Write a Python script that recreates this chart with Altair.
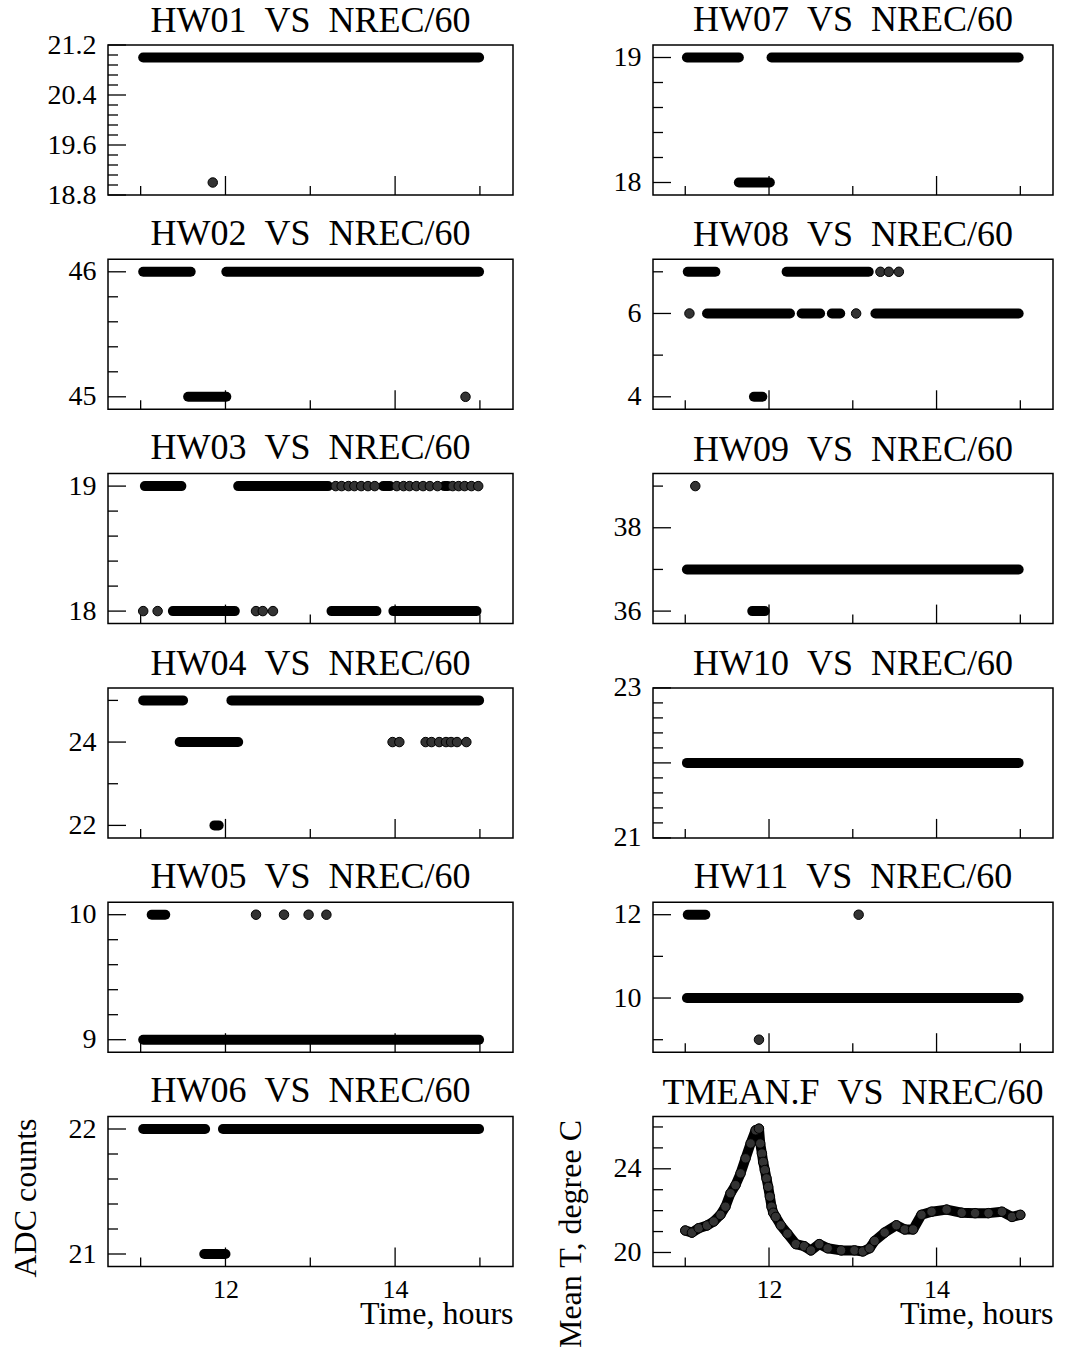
import altair as alt
import pandas as pd

FONT = "Liberation Serif"
SP = "\u00a0\u00a0"

X_DOMAIN = [10.615, 15.39]
X_MAJOR = [12, 14]
X_MINOR = [11, 13, 15]

# ---- data: runs (t_start, t_end, value) and single points (t, value) ----
HW01_RUNS = [(11.03, 14.99, 21)]
HW01_POINTS = [(11.85, 19)]

HW02_RUNS = [(11.03, 11.59, 46), (12.01, 14.99, 46), (11.56, 12.01, 45)]
HW02_POINTS = [(14.83, 45)]

HW03_RUNS = [(11.05, 11.48, 19), (12.15, 13.21, 19), (13.86, 13.94, 19), (14.58, 14.62, 19),
             (11.38, 12.11, 18), (13.25, 13.78, 18), (13.98, 14.96, 18)]
HW03_POINTS = [(13.3, 19), (13.37, 19), (13.45, 19), (13.52, 19), (13.6, 19), (13.68, 19),
               (13.76, 19), (14.02, 19), (14.1, 19), (14.17, 19), (14.25, 19), (14.33, 19),
               (14.41, 19), (14.5, 19), (14.68, 19), (14.75, 19), (14.82, 19), (14.9, 19),
               (14.98, 19),
               (11.03, 18), (11.2, 18), (12.36, 18), (12.44, 18), (12.56, 18)]

HW04_RUNS = [(11.03, 11.5, 25), (12.07, 14.99, 25), (11.46, 12.15, 24), (11.87, 11.92, 22)]
HW04_POINTS = [(13.97, 24), (14.05, 24), (14.36, 24), (14.43, 24), (14.52, 24), (14.6, 24),
               (14.66, 24), (14.73, 24), (14.84, 24)]

HW05_RUNS = [(11.13, 11.29, 10), (11.03, 14.99, 9)]
HW05_POINTS = [(12.36, 10), (12.69, 10), (12.98, 10), (13.19, 10)]

HW06_RUNS = [(11.03, 11.76, 22), (11.97, 14.99, 22), (11.75, 12.0, 21)]
HW06_POINTS = []

HW07_RUNS = [(11.02, 11.64, 19), (12.03, 14.98, 19), (11.64, 12.01, 18)]
HW07_POINTS = []

HW08_RUNS = [(11.03, 11.36, 7), (12.21, 13.19, 7), (11.26, 12.25, 6), (12.39, 12.61, 6),
             (12.75, 12.85, 6), (13.27, 14.98, 6), (11.82, 11.92, 4)]
HW08_POINTS = [(13.33, 7), (13.43, 7), (13.55, 7), (11.05, 6), (13.04, 6)]

HW09_RUNS = [(11.02, 14.98, 37), (11.8, 11.95, 36)]
HW09_POINTS = [(11.12, 39)]

HW10_RUNS = [(11.02, 14.98, 22)]
HW10_POINTS = []

HW11_RUNS = [(11.03, 11.24, 12), (11.02, 14.98, 10)]
HW11_POINTS = [(13.07, 12), (11.88, 9)]

TMEAN_T = [11.0, 11.08, 11.16, 11.26, 11.34, 11.42, 11.48, 11.54, 11.6, 11.66, 11.72, 11.78,
           11.84, 11.88, 11.895, 11.915, 11.93, 11.95, 11.97, 11.99, 12.01, 12.03, 12.05,
           12.08, 12.14, 12.22, 12.32, 12.42, 12.5, 12.6, 12.7, 12.86, 13.02, 13.12, 13.2,
           13.26, 13.38, 13.52, 13.62, 13.72, 13.82, 13.94, 14.12, 14.3, 14.46, 14.62, 14.78,
           14.9, 15.0]
TMEAN_V = [21.05, 20.95, 21.16, 21.29, 21.48, 21.8, 22.19, 22.83, 23.22, 23.78, 24.5, 25.21,
           25.84, 25.92, 25.21, 24.73, 24.33, 23.94, 23.54, 23.14, 22.67, 22.19, 21.9,
           21.7, 21.3, 20.9, 20.4, 20.3, 20.1, 20.4, 20.2, 20.1, 20.1, 20.05, 20.2,
           20.55, 20.95, 21.3, 21.1, 21.1, 21.8, 21.95, 22.05, 21.9, 21.88, 21.88, 21.95,
           21.7, 21.8]

# ---- axes per panel: domain, labelled ticks, minor ticks ----
HW01_Y = dict(dom=[18.8, 21.2], labels=[18.8, 19.6, 20.4, 21.2],
              minor=[18.96, 19.12, 19.28, 19.44, 19.76, 19.92, 20.08, 20.24,
                     20.56, 20.72, 20.88, 21.04], fmt=".1f")
HW02_Y = dict(dom=[44.9, 46.1], labels=[45, 46], minor=[45.2, 45.4, 45.6, 45.8], fmt="d")
HW03_Y = dict(dom=[17.9, 19.1], labels=[18, 19], minor=[18.2, 18.4, 18.6, 18.8], fmt="d")
HW04_Y = dict(dom=[21.7, 25.3], labels=[22, 24], minor=[23, 25], fmt="d")
HW05_Y = dict(dom=[8.9, 10.1], labels=[9, 10], minor=[9.2, 9.4, 9.6, 9.8], fmt="d")
HW06_Y = dict(dom=[20.9, 22.1], labels=[21, 22], minor=[21.2, 21.4, 21.6, 21.8], fmt="d")
HW07_Y = dict(dom=[17.9, 19.1], labels=[18, 19], minor=[18.2, 18.4, 18.6, 18.8], fmt="d")
HW08_Y = dict(dom=[3.7, 7.3], labels=[4, 6], minor=[5, 7], fmt="d")
HW09_Y = dict(dom=[35.7, 39.3], labels=[36, 38], minor=[37, 39], fmt="d")
HW10_Y = dict(dom=[21, 23], labels=[21, 22, 23],
              minor=[21.2, 21.4, 21.6, 21.8, 22.2, 22.4, 22.6, 22.8], fmt="d")
HW11_Y = dict(dom=[8.7, 12.3], labels=[10, 12], minor=[9, 11], fmt="d")
TMEAN_Y = dict(dom=[19.33, 26.5], labels=[20, 24], minor=[21, 22, 23, 25, 26], fmt="d")

H = 150
MAJ_LEN = 18
MIN_LEN = 10
DOT_FILL = "#333333"


def panel(name, yspec, width, runs, points, bottom=False, ytitle=None, ytitle_y=None,
          curve=None, title_offset=-23):
    xs = alt.Scale(domain=X_DOMAIN, nice=False, zero=False)
    ys = alt.Scale(domain=yspec["dom"], nice=False, zero=False)

    if bottom:
        xaxis = alt.Axis(values=X_MAJOR, format="d", ticks=False, domain=False, grid=False,
                         labelPadding=10, labelFontSize=26, labelFlush=False,
                         title="Time, hours", titleAnchor="end", titleAlign="right",
                         titleX=width, titleY=57, titleBaseline="alphabetic")
    else:
        xaxis = None
    yaxis_kw = dict(values=yspec["labels"], format=yspec["fmt"], ticks=False, domain=False,
                    grid=False, labelPadding=12, labelFlush=False, labelOverlap=False)
    if ytitle:
        yaxis_kw.update(title=ytitle, titleAngle=270, titleX=-73, titleY=ytitle_y,
                        titleAlign="center", titleBaseline="alphabetic")
    yaxis = alt.Axis(**yaxis_kw)
    xt = "Time, hours" if bottom else None
    yt = ytitle if ytitle else None

    def X(f):
        return alt.X(f, scale=xs, axis=xaxis, title=xt)

    def Y(f):
        return alt.Y(f, scale=ys, axis=yaxis, title=yt)

    ymaj = alt.Chart(pd.DataFrame({"v": yspec["labels"]})).mark_rule(
        color="black", strokeWidth=1.3).encode(
        y=Y("v:Q"), x=alt.value(0), x2=alt.value(MAJ_LEN))
    ymin = alt.Chart(pd.DataFrame({"v": yspec["minor"]})).mark_rule(
        color="black", strokeWidth=1.3).encode(
        y=Y("v:Q"), x=alt.value(0), x2=alt.value(MIN_LEN))
    xmaj = alt.Chart(pd.DataFrame({"t": X_MAJOR})).mark_rule(
        color="black", strokeWidth=1.3).encode(
        x=X("t:Q"), y=alt.value(H), y2=alt.value(H - 19))
    xmin = alt.Chart(pd.DataFrame({"t": X_MINOR})).mark_rule(
        color="black", strokeWidth=1.3).encode(
        x=X("t:Q"), y=alt.value(H), y2=alt.value(H - 9))

    layers = [ymaj, ymin, xmaj, xmin]

    if curve is not None:
        cdf = pd.DataFrame({"t": curve[0], "v": curve[1]})
        line = alt.Chart(cdf).mark_line(color="black", strokeWidth=10, strokeCap="round",
                                        strokeJoin="round").encode(
            x=X("t:Q"), y=Y("v:Q"))
        pts = alt.Chart(cdf).mark_point(shape="circle", filled=True, fill=DOT_FILL,
                                        stroke="black", strokeWidth=1, size=90,
                                        opacity=1).encode(x=X("t:Q"), y=Y("v:Q"))
        layers += [line, pts]
    else:
        rdf = pd.DataFrame(runs, columns=["t0", "t1", "v"])
        rl = alt.Chart(rdf).mark_rule(color="black", strokeWidth=10, strokeCap="round").encode(
            x=X("t0:Q"), x2="t1:Q", y=Y("v:Q"))
        layers.append(rl)
        if points:
            pdf = pd.DataFrame(points, columns=["t", "v"])
            pl = alt.Chart(pdf).mark_point(shape="circle", filled=True, fill=DOT_FILL,
                                           stroke="black", strokeWidth=1, size=90,
                                           opacity=1).encode(x=X("t:Q"), y=Y("v:Q"))
            layers.append(pl)

    title = alt.TitleParams(text=f"{name}{SP}VS{SP}NREC/60", font=FONT, fontSize=36,
                            fontWeight="normal", color="black", frame="group",
                            offset=title_offset, baseline="alphabetic", anchor="middle")
    return alt.layer(*layers).properties(width=width, height=H, title=title)


LW, RW = 405, 400
charts = [
    panel("HW01", HW01_Y, LW, HW01_RUNS, HW01_POINTS, title_offset=-37),
    panel("HW07", HW07_Y, RW, HW07_RUNS, HW07_POINTS),
    panel("HW02", HW02_Y, LW, HW02_RUNS, HW02_POINTS),
    panel("HW08", HW08_Y, RW, HW08_RUNS, HW08_POINTS),
    panel("HW03", HW03_Y, LW, HW03_RUNS, HW03_POINTS),
    panel("HW09", HW09_Y, RW, HW09_RUNS, HW09_POINTS),
    panel("HW04", HW04_Y, LW, HW04_RUNS, HW04_POINTS),
    panel("HW10", HW10_Y, RW, HW10_RUNS, HW10_POINTS, title_offset=-37),
    panel("HW05", HW05_Y, LW, HW05_RUNS, HW05_POINTS),
    panel("HW11", HW11_Y, RW, HW11_RUNS, HW11_POINTS),
    panel("HW06", HW06_Y, LW, HW06_RUNS, HW06_POINTS, bottom=True,
          ytitle="ADC counts", ytitle_y=81),
    panel("TMEAN.F", TMEAN_Y, RW, None, None, bottom=True,
          ytitle="Mean T, degree C", ytitle_y=117, curve=(TMEAN_T, TMEAN_V)),
]

chart = alt.concat(*charts, columns=2, spacing={"row": 64.3, "column": 140},
                   bounds="flush").properties(
    padding={"left": 8, "top": 0, "right": 0, "bottom": 0},
    background="white",
).configure_view(
    stroke="black", strokeWidth=1.5
).configure_axis(
    labelFont=FONT, labelFontSize=28, labelColor="black",
    titleFont=FONT, titleFontSize=32, titleFontWeight="normal", titleColor="black",
).configure_title(
    font=FONT, fontSize=36, fontWeight="normal", color="black"
)

chart.save("out.html", embed_options={"renderer": "svg", "actions": False})
